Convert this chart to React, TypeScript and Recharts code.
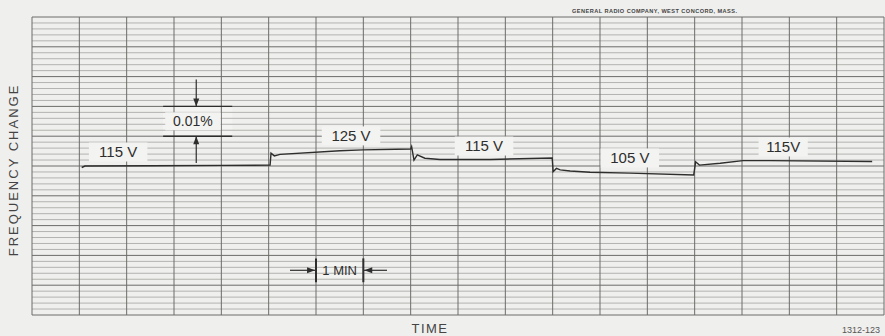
import React from "react";
import {
  LineChart,
  Line,
  XAxis,
  YAxis,
  ReferenceLine,
  ReferenceArea,
  ReferenceDot,
  Label,
} from "recharts";

// Time in minutes along the recording
const times = [
  1.05, 1.12, 2.5, 4.0, 5.03, 5.05, 5.12, 5.24, 6.51, 6.99, 8.0, 8.02, 8.07,
  8.14, 8.3, 8.62, 9.68, 10.99, 11.01, 11.08, 11.16, 11.37, 11.79, 12.63,
  13.98, 14.02, 14.1, 14.54, 15.02, 15.59, 17.75,
];
// Frequency change in percent
const freqChange = [
  -0.0005, 0.0, 0.0001, 0.0002, 0.0003, 0.0043, 0.0034, 0.0039, 0.0051, 0.0054,
  0.0057, 0.0065, 0.002, 0.0037, 0.0026, 0.0022, 0.0022, 0.0027, -0.0019,
  -0.0008, -0.0013, -0.0017, -0.0021, -0.0024, -0.003, 0.0014, 0.0003, 0.0009,
  0.0018, 0.0018, 0.0015,
];

// Line-voltage annotations
const voltageLabels = ["115 V", "125 V", "115 V", "105 V", "115V"];
const voltageLabelTimes = [1.82, 6.74, 9.55, 12.63, 15.87];
const voltageLabelLevels = [0.0047, 0.0101, 0.0067, 0.0027, 0.0064];

// Grid: one vertical line per minute, horizontal major every 0.01 %, minor every 0.002 %
const minuteLines = Array.from({ length: 19 }, (_, i) => i);
const majorLevels = Array.from({ length: 11 }, (_, i) => +(-0.05 + i * 0.01).toFixed(3));
const minorLevels = Array.from({ length: 51 }, (_, i) => +(-0.05 + i * 0.002).toFixed(3)).filter(
  (v) => !majorLevels.includes(v)
);

// Scale markers
const scaleMarkerTime = 3.47;
const scaleMarkerSpan = [2.77, 4.23];
const scaleMarkerLevels = [0.01, 0.02];
const minuteMarker = [6, 7];
const minuteMarkerLevel = -0.035;

const data = times.map((t, i) => ({ t, v: freqChange[i] }));

const PAPER = "#efefed";
const BOX = "#f3f3f1";
const INK = "#2e2e2e";
const FONT = "'Liberation Sans', Arial, sans-serif";

const labelShape = (text: string, size: number) => (props: any) => {
  const { cx, cy } = props;
  const w = text.length * size * 0.62 + 12;
  const h = size + 4;
  return (
    <g>
      <rect x={cx - w / 2} y={cy - h / 2} width={w} height={h} fill={BOX} />
      <text
        x={cx}
        y={cy + size * 0.36}
        textAnchor="middle"
        fontFamily={FONT}
        fontSize={size}
        fill={INK}
      >
        {text}
      </text>
    </g>
  );
};

const arrow = (dir: "up" | "down" | "left" | "right") => (props: any) => {
  const { cx, cy } = props;
  let pts = "";
  if (dir === "down") pts = `${cx},${cy} ${cx - 3},${cy - 8} ${cx + 3},${cy - 8}`;
  if (dir === "up") pts = `${cx},${cy} ${cx - 3},${cy + 8} ${cx + 3},${cy + 8}`;
  if (dir === "right") pts = `${cx},${cy} ${cx - 8},${cy - 3} ${cx - 8},${cy + 3}`;
  if (dir === "left") pts = `${cx},${cy} ${cx + 8},${cy - 3} ${cx + 8},${cy + 3}`;
  return <polygon points={pts} fill={INK} />;
};

export default function App() {
  return (
    <div
      style={{
        position: "absolute",
        left: 0,
        top: 0,
        width: 885,
        height: 336,
        background: PAPER,
        overflow: "hidden",
      }}
    >
      <LineChart
        width={885}
        height={336}
        data={data}
        margin={{ top: 17, right: 1, left: 0, bottom: 0 }}
      >
        <XAxis
          dataKey="t"
          type="number"
          domain={[0, 18]}
          ticks={minuteLines}
          tick={false}
          axisLine={false}
          tickLine={false}
          height={21}
          allowDataOverflow
        >
          <Label
            content={(p: any) => {
              const vb = p.viewBox;
              return (
                <text
                  x={vb.x + vb.width / 2 - 28}
                  y={vb.y + 18}
                  textAnchor="middle"
                  fontFamily={FONT}
                  fontSize={13}
                  letterSpacing={1.5}
                  fill="#444"
                >
                  TIME
                </text>
              );
            }}
          />
        </XAxis>
        <YAxis
          type="number"
          domain={[-0.05, 0.05]}
          ticks={majorLevels}
          tick={false}
          axisLine={false}
          tickLine={false}
          width={32}
          allowDataOverflow
        >
          <Label
            content={(p: any) => {
              const vb = p.viewBox;
              const x = vb.x + 18;
              const y = vb.y + vb.height / 2 + 4;
              return (
                <text
                  x={x}
                  y={y}
                  transform={`rotate(-90 ${x} ${y})`}
                  textAnchor="middle"
                  fontFamily={FONT}
                  fontSize={13}
                  letterSpacing={2}
                  fill="#444"
                >
                  FREQUENCY CHANGE
                </text>
              );
            }}
          />
        </YAxis>

        {/* chart-paper grid */}
        {minorLevels.map((lv) => (
          <ReferenceLine key={`mn${lv}`} y={lv} stroke="#b2b2b0" strokeWidth={1} />
        ))}
        {majorLevels.map((lv) => (
          <ReferenceLine key={`mj${lv}`} y={lv} stroke="#6c6c6a" strokeWidth={1} />
        ))}
        {minuteLines.map((m) => (
          <ReferenceLine key={`mv${m}`} x={m} stroke="#6c6c6a" strokeWidth={1} />
        ))}

        {/* 0.01 % scale marker */}
        <ReferenceArea
          x1={scaleMarkerSpan[0]}
          x2={scaleMarkerSpan[1]}
          y1={scaleMarkerLevels[0] + 0.0003}
          y2={scaleMarkerLevels[1] - 0.0003}
          fill={BOX}
          fillOpacity={1}
          stroke="none"
        />
        {scaleMarkerLevels.map((lv) => (
          <ReferenceLine
            key={`sm${lv}`}
            segment={[
              { x: scaleMarkerSpan[0], y: lv },
              { x: scaleMarkerSpan[1], y: lv },
            ]}
            stroke={INK}
            strokeWidth={1.4}
          />
        ))}
        <ReferenceLine
          segment={[
            { x: scaleMarkerTime, y: 0.029 },
            { x: scaleMarkerTime, y: scaleMarkerLevels[1] },
          ]}
          stroke={INK}
          strokeWidth={1.2}
        />
        <ReferenceLine
          segment={[
            { x: scaleMarkerTime, y: 0.001 },
            { x: scaleMarkerTime, y: scaleMarkerLevels[0] },
          ]}
          stroke={INK}
          strokeWidth={1.2}
        />
        <ReferenceDot x={scaleMarkerTime} y={scaleMarkerLevels[1]} r={0} shape={arrow("down")} />
        <ReferenceDot x={scaleMarkerTime} y={scaleMarkerLevels[0]} r={0} shape={arrow("up")} />
        <ReferenceDot
          x={scaleMarkerTime - 0.07}
          y={(scaleMarkerLevels[0] + scaleMarkerLevels[1]) / 2}
          r={0}
          shape={labelShape("0.01%", 14)}
        />

        {/* 1 minute marker */}
        <ReferenceArea
          x1={minuteMarker[0]}
          x2={minuteMarker[1]}
          y1={minuteMarkerLevel - 0.0025}
          y2={minuteMarkerLevel + 0.0025}
          fill={BOX}
          fillOpacity={1}
          stroke="none"
        />
        {minuteMarker.map((m) => (
          <ReferenceLine
            key={`mm${m}`}
            segment={[
              { x: m, y: minuteMarkerLevel - 0.004 },
              { x: m, y: minuteMarkerLevel + 0.004 },
            ]}
            stroke={INK}
            strokeWidth={2}
          />
        ))}
        <ReferenceLine
          segment={[
            { x: 5.45, y: minuteMarkerLevel },
            { x: minuteMarker[0], y: minuteMarkerLevel },
          ]}
          stroke={INK}
          strokeWidth={1.2}
        />
        <ReferenceLine
          segment={[
            { x: minuteMarker[1], y: minuteMarkerLevel },
            { x: 7.5, y: minuteMarkerLevel },
          ]}
          stroke={INK}
          strokeWidth={1.2}
        />
        <ReferenceDot x={minuteMarker[0] - 0.02} y={minuteMarkerLevel} r={0} shape={arrow("right")} />
        <ReferenceDot x={minuteMarker[1] + 0.02} y={minuteMarkerLevel} r={0} shape={arrow("left")} />
        <ReferenceDot
          x={(minuteMarker[0] + minuteMarker[1]) / 2}
          y={minuteMarkerLevel}
          r={0}
          shape={(p: any) => (
            <text
              x={p.cx}
              y={p.cy + 5}
              textAnchor="middle"
              fontFamily={FONT}
              fontSize={13}
              fill={INK}
            >
              1 MIN
            </text>
          )}
        />

        {voltageLabels.map((txt, i) => (
          <ReferenceDot
            key={`vl${i}`}
            x={voltageLabelTimes[i]}
            y={voltageLabelLevels[i]}
            r={0}
            shape={labelShape(txt, 15)}
          />
        ))}

        <Line
          type="linear"
          dataKey="v"
          stroke={INK}
          strokeWidth={1.4}
          dot={false}
          isAnimationActive={false}
        />
      </LineChart>

      <div
        style={{
          position: "absolute",
          left: 572,
          top: 8,
          fontFamily: FONT,
          fontSize: 5.6,
          fontWeight: "bold",
          letterSpacing: 0.45,
          color: "#444",
          whiteSpace: "nowrap",
          lineHeight: "7px",
        }}
      >
        GENERAL RADIO COMPANY, WEST CONCORD, MASS.
      </div>
      <div
        style={{
          position: "absolute",
          left: 842,
          top: 325,
          fontFamily: FONT,
          fontSize: 9,
          color: "#555",
          whiteSpace: "nowrap",
          lineHeight: "10px",
        }}
      >
        1312-123
      </div>
    </div>
  );
}
